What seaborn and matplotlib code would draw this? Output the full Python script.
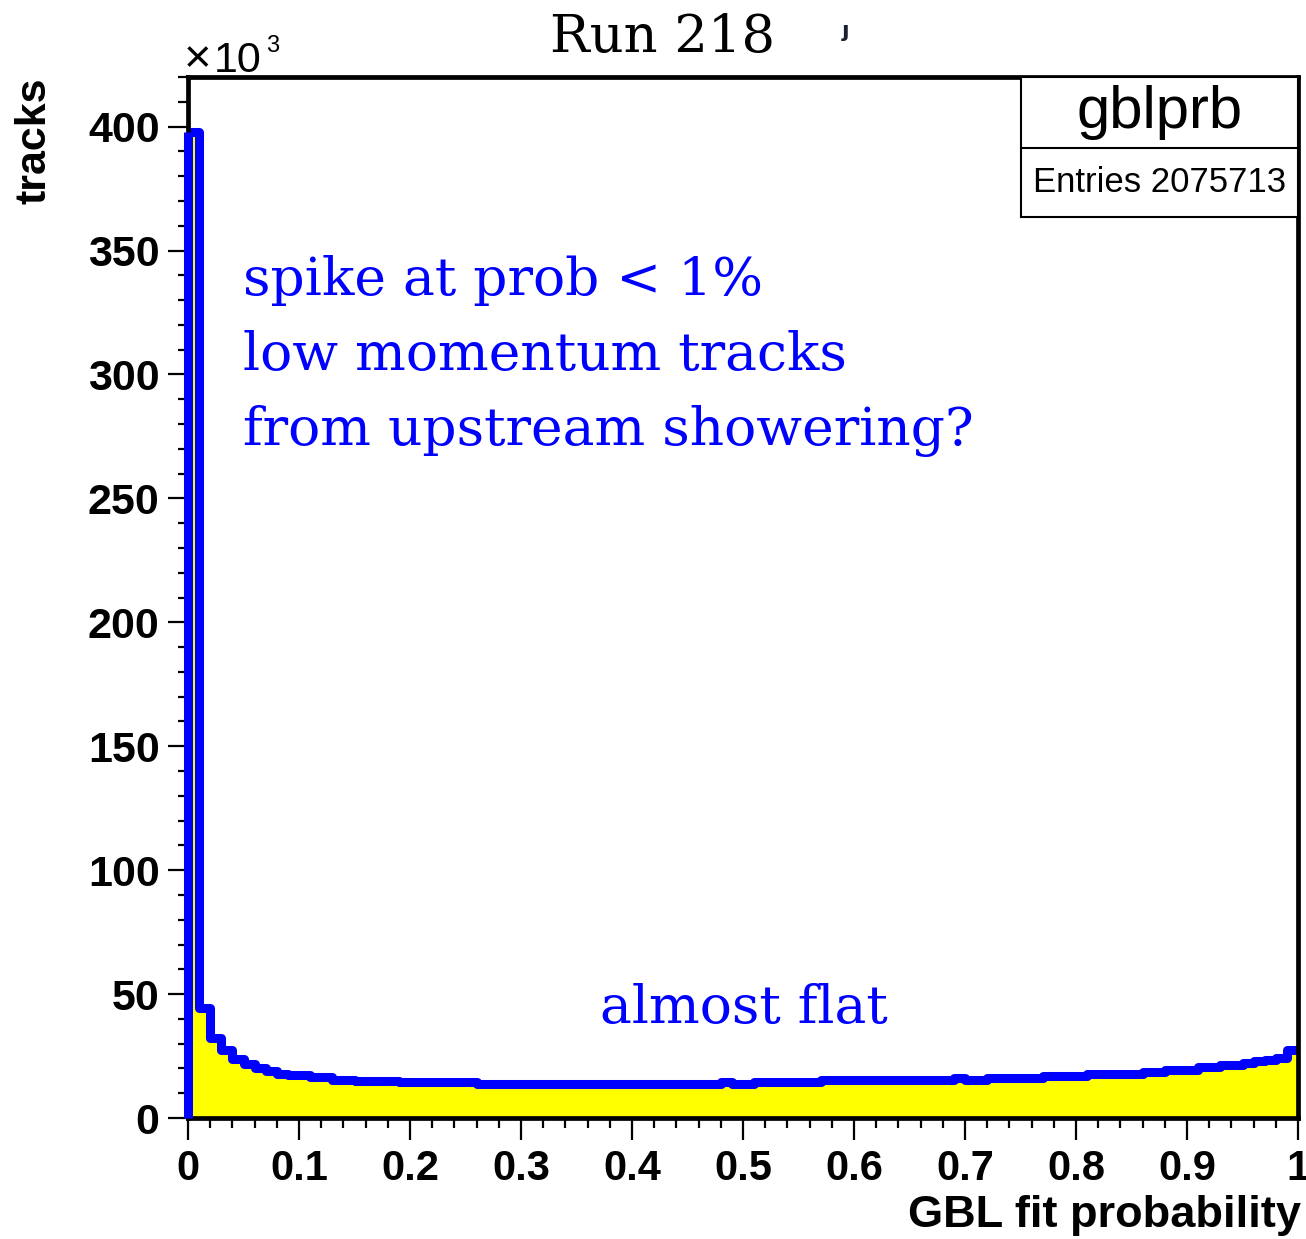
import numpy as np
import pandas as pd
import matplotlib
matplotlib.use("Agg")
import matplotlib.pyplot as plt
import seaborn as sns
from matplotlib.patches import Rectangle
from matplotlib.ticker import MultipleLocator, FuncFormatter

# ---------------- data (tracks per bin, in units of 10^3) ----------------
n_bins = 100
x_range = (0.0, 1.0)
tracks_k = (
    [398.0, 44.2, 32.3, 27.3, 24.0, 21.6, 20.0, 18.9, 17.9, 17.3,
     17.3, 16.5, 16.5, 15.5, 15.5, 15.0, 15.0, 15.0, 15.0, 14.7,
     14.7, 14.7, 14.7, 14.7, 14.4, 14.4]
    + [13.8] * 22
    + [14.5, 13.8, 13.8]
    + [14.6] * 6
    + [15.4] * 12
    + [16.1, 15.4, 15.4]
    + [16.2] * 5
    + [17.0] * 4
    + [17.6] * 5
    + [18.5, 18.5, 19.5, 19.5, 19.5, 20.4, 20.4, 21.2, 21.2,
       22.0, 22.9, 23.6, 24.4, 27.6]
)
x_tick_labels = ["0", "0.1", "0.2", "0.3", "0.4", "0.5", "0.6", "0.7", "0.8", "0.9", "1"]
title = "Run 218"
hist_name = "gblprb"
entries = "Entries 2075713"
notes_top = ["spike at prob < 1%", "low momentum tracks", "from upstream showering?"]
note_flat = "almost flat"

bin_edges = np.linspace(x_range[0], x_range[1], n_bins + 1)
bin_centers = (bin_edges[:-1] + bin_edges[1:]) / 2
df = pd.DataFrame({"prob": bin_centers, "tracks_k": tracks_k})

# ---------------- styling ----------------
sns.set_style("white")
plt.rcParams["font.family"] = ["Liberation Sans", "DejaVu Sans"]
plt.rcParams["text.color"] = "black"
plt.rcParams["xtick.color"] = "black"
plt.rcParams["ytick.color"] = "black"
plt.rcParams["axes.labelcolor"] = "black"

W, H = 1306, 1239
fig = plt.figure(figsize=(W / 100, H / 100), dpi=100)
ax = fig.add_axes([188 / W, 1 - 1118 / H, (1298 - 188) / W, (1118 - 77) / H])

YELLOW = "#ffff00"
BLUE = "#0000ff"
LW = 6.5

sns.histplot(data=df, x="prob", weights="tracks_k", bins=n_bins,
             binrange=x_range, element="step", fill=True, color=YELLOW,
             alpha=1.0, linewidth=0, ax=ax)
sns.histplot(data=df, x="prob", weights="tracks_k", bins=n_bins,
             binrange=x_range, element="step", fill=False, color=BLUE,
             linewidth=LW, ax=ax)
ax.vlines(bin_edges[0], 0, tracks_k[0], color=BLUE, lw=LW,
          clip_on=False, zorder=3, capstyle="butt")

ax.set_xlim(*x_range)
ax.set_ylim(0, 420)
ax.set_xlabel("")
ax.set_ylabel("")

for s in ax.spines.values():
    s.set_visible(True)
    s.set_linewidth(3.4)
    s.set_color("black")

ax.xaxis.set_minor_locator(MultipleLocator(0.02))
ax.yaxis.set_major_locator(MultipleLocator(50))
ax.yaxis.set_minor_locator(MultipleLocator(10))
ax.set_xticks(np.linspace(0, 1, len(x_tick_labels)))
ax.set_xticklabels(x_tick_labels)
ax.yaxis.set_major_formatter(FuncFormatter(lambda v, p: f"{v:g}"))
ax.tick_params(axis="both", which="both", direction="out", width=1.6,
               colors="black", bottom=True, left=True, top=False, right=False)
ax.tick_params(axis="x", which="major", length=16, labelsize=30, pad=6)
ax.tick_params(axis="x", which="minor", length=7.5)
ax.tick_params(axis="y", which="major", length=14.5, labelsize=31, pad=6)
ax.tick_params(axis="y", which="minor", length=7.5)
for lab in ax.get_xticklabels() + ax.get_yticklabels():
    lab.set_fontweight("bold")
    lab.set_color("black")

# axis titles
fig.text(35 / W, 1 - 77 / H, "tracks", rotation=90, ha="center", va="top",
         fontsize=31, fontweight="bold")
fig.text(1301 / W, 1 - 1215 / H, "GBL fit probability", ha="right",
         va="center", fontsize=32.5, fontweight="bold")

# x10^3 exponent
fig.text(184 / W, 1 - 72 / H, "×", ha="left", va="baseline", fontsize=34)
fig.text(214 / W, 1 - 72 / H, "10", ha="left", va="baseline", fontsize=31)
fig.text(266 / W, 1 - 52 / H, "3", ha="left", va="baseline", fontsize=17)

# title
fig.text(663 / W, 1 - 52 / H, title, ha="center", va="baseline",
         fontsize=38, family="DejaVu Serif")
fig.text(846 / W, 1 - 37 / H, "ȷ", ha="center", va="baseline",
         fontsize=16, fontweight="bold", color="#1a2030",
         family="DejaVu Sans")

# annotations
for i, line in enumerate(notes_top):
    fig.text(243 / W, 1 - (295 + 75 * i) / H, line, ha="left",
             va="baseline", fontsize=38.5, color=BLUE, family="DejaVu Serif")
fig.text(600 / W, 1 - 1023 / H, note_flat, ha="left", va="baseline",
         fontsize=38.5, color=BLUE, family="DejaVu Serif")

# stats box
bx0 = (1021 - 188) / (1298 - 188)
by0 = (1118 - 217) / (1118 - 77)
bdiv = (1118 - 148) / (1118 - 77)
ax.add_patch(Rectangle((bx0, by0), 1 - bx0, 1 - by0, transform=ax.transAxes,
                       facecolor="white", edgecolor="black", lw=1.5,
                       zorder=5, clip_on=False))
ax.plot([bx0, 1], [bdiv, bdiv], transform=ax.transAxes, color="black",
        lw=1.5, zorder=6, clip_on=False)
ax.text((bx0 + 1) / 2, (bdiv + 1) / 2, hist_name, transform=ax.transAxes,
        ha="center", va="center", fontsize=43, zorder=7)
ax.text((bx0 + 1) / 2, (by0 + bdiv) / 2, entries, transform=ax.transAxes,
        ha="center", va="center", fontsize=25, zorder=7)

fig.savefig("out.png", dpi=100)
